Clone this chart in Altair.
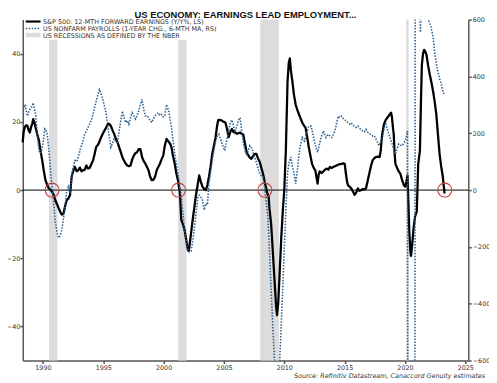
import altair as alt
import pandas as pd

# ---------------- data ----------------
eps_year = [1988.32, 1988.4, 1988.5, 1988.62, 1988.72, 1988.82, 1988.91, 1989.02, 1989.12, 1989.19,
            1989.28, 1989.4, 1989.52, 1989.67, 1989.8, 1989.94, 1990.08, 1990.21, 1990.35, 1990.49,
            1990.62, 1990.76, 1990.9, 1991.02, 1991.15, 1991.3, 1991.45, 1991.57, 1991.71, 1991.85,
            1991.98, 1992.1, 1992.24, 1992.31, 1992.38, 1992.5, 1992.65, 1992.8, 1992.93, 1993.06,
            1993.2, 1993.33, 1993.47, 1993.6, 1993.75, 1993.87, 1994.0, 1994.15, 1994.28, 1994.41,
            1994.6, 1994.82, 1995.0, 1995.23, 1995.41, 1995.52, 1995.63, 1995.77, 1995.9, 1996.05,
            1996.18, 1996.32, 1996.45, 1996.6, 1996.72, 1996.85, 1996.99, 1997.12, 1997.26, 1997.4,
            1997.53, 1997.66, 1997.8, 1997.94, 1998.07, 1998.14, 1998.21, 1998.35, 1998.48, 1998.62,
            1998.75, 1998.88, 1999.02, 1999.15, 1999.29, 1999.43, 1999.56, 1999.7, 1999.83, 1999.97,
            2000.1, 2000.24, 2000.35, 2000.46, 2000.55, 2000.65, 2000.78, 2000.92, 2001.05, 2001.19,
            2001.26, 2001.33, 2001.4, 2001.46, 2001.6, 2001.73, 2001.87, 2002.0, 2002.07, 2002.14,
            2002.28, 2002.41, 2002.55, 2002.68, 2002.82, 2002.95, 2003.08, 2003.22, 2003.36, 2003.5,
            2003.63, 2003.76, 2003.9, 2004.03, 2004.17, 2004.31, 2004.42, 2004.52, 2004.68, 2004.85,
            2004.98, 2005.12, 2005.25, 2005.39, 2005.52, 2005.66, 2005.8, 2005.93, 2006.1, 2006.34,
            2006.47, 2006.6, 2006.75, 2006.88, 2007.05, 2007.15, 2007.28, 2007.42, 2007.55, 2007.69,
            2007.8, 2007.97, 2008.1, 2008.24, 2008.37, 2008.5, 2008.6, 2008.7, 2008.77, 2008.91,
            2009.05, 2009.2, 2009.32, 2009.4, 2009.5, 2009.62, 2009.75, 2009.88, 2010.0, 2010.13,
            2010.27, 2010.38, 2010.46, 2010.55, 2010.67, 2010.8, 2010.94, 2011.08, 2011.22, 2011.35,
            2011.49, 2011.62, 2011.76, 2011.9, 2012.03, 2012.17, 2012.3, 2012.44, 2012.57, 2012.68,
            2012.76, 2012.85, 2012.93, 2013.08, 2013.25, 2013.38, 2013.52, 2013.65, 2013.79, 2013.93,
            2014.07, 2014.2, 2014.33, 2014.5, 2014.74, 2014.88, 2015.01, 2015.1, 2015.2, 2015.28,
            2015.42, 2015.55, 2015.7, 2015.82, 2015.95, 2016.1, 2016.23, 2016.37, 2016.5, 2016.65,
            2016.77, 2016.9, 2017.04, 2017.18, 2017.32, 2017.45, 2017.59, 2017.75, 2017.9, 2017.99,
            2018.1, 2018.26, 2018.4, 2018.54, 2018.7, 2018.85, 2018.92, 2019.0, 2019.07, 2019.14,
            2019.21, 2019.35, 2019.48, 2019.62, 2019.76, 2019.9, 2020.02, 2020.12, 2020.21, 2020.28,
            2020.36, 2020.45, 2020.5, 2020.6, 2020.72, 2020.84, 2020.98, 2021.1, 2021.24, 2021.32,
            2021.4, 2021.5, 2021.59, 2021.7, 2021.79, 2021.92, 2022.06, 2022.2, 2022.33, 2022.46,
            2022.6, 2022.73, 2022.87, 2023.0, 2023.14, 2023.28]
eps_val = [14.0, 17.0, 18.5, 19.0, 18.8, 17.5, 16.9, 18.5, 19.5, 20.8,
           20.0, 18.3, 16.5, 14.5, 11.5, 8.7, 5.5, 2.9, 1.5, 0.5,
           0.2, -0.5, -1.5, -2.9, -4.0, -5.3, -6.5, -7.2, -6.8, -4.5,
           -2.9, -2.5, -1.5, 1.0, 3.9, 5.5, 6.8, 5.5, 5.8, 6.6,
           5.5, 5.8, 6.0, 7.2, 6.3, 6.5, 7.5, 8.7, 10.5, 12.6,
           13.5, 15.5, 16.8, 18.3, 19.5, 19.3, 18.8, 17.5, 16.5, 15.0,
           14.0, 12.5, 11.1, 9.5, 8.7, 7.8, 7.2, 7.0, 7.2, 9.0,
           10.1, 10.8, 11.1, 12.0, 12.0, 11.0, 9.7, 8.5, 7.8, 6.8,
           5.8, 4.0, 2.9, 3.0, 3.9, 5.8, 6.8, 7.8, 9.0, 10.1,
           13.0, 15.0, 14.5, 14.0, 13.5, 12.6, 10.0, 7.8, 5.0, 2.9,
           1.0, 0.0, -4.0, -8.7, -10.0, -11.6, -14.5, -17.4, -17.8, -16.4,
           -12.5, -8.7, -5.0, -1.5, 1.5, 4.3, 2.5, 1.0, 0.3, 0.0,
           1.5, 3.9, 7.0, 10.6, 13.0, 15.5, 18.5, 20.5, 20.6, 20.3,
           20.0, 19.8, 18.0, 15.5, 17.0, 17.9, 17.0, 16.9, 16.5, 16.9,
           16.5, 16.3, 13.5, 11.1, 10.0, 9.5, 9.2, 10.0, 10.6, 10.6,
           9.5, 8.2, 6.5, 4.8, 2.5, 0.5, -1.0, -1.9, -5.3, -10.0,
           -18.0, -27.0, -34.0, -36.7, -33.0, -24.0, -14.0, -6.0, 0.0, 11.6,
           31.9, 37.5, 38.6, 35.0, 31.9, 28.0, 25.1, 23.5, 22.2, 21.0,
           19.8, 19.0, 18.3, 15.5, 12.6, 10.0, 7.7, 6.5, 5.8, 3.5,
           1.9, 4.5, 5.5, 5.0, 5.5, 6.0, 6.3, 6.0, 6.8, 6.5,
           6.8, 7.0, 7.2, 7.5, 7.7, 7.8, 7.7, 5.0, 2.5, 1.4,
           1.0, 0.5, -0.5, -1.4, -0.8, 0.5, -0.2, 0.0, 0.3, 0.2,
           0.5, 2.5, 4.8, 7.0, 8.7, 9.3, 9.7, 9.8, 9.7, 11.5,
           16.0, 19.3, 20.5, 21.2, 22.0, 22.7, 21.5, 18.5, 16.4, 11.0,
           7.7, 6.5, 5.5, 4.8, 3.0, 1.5, 1.0, 2.5, 4.3, -3.0,
           -12.0, -18.0, -19.3, -16.0, -11.0, -7.7, -6.3, 7.7, 11.6, 25.0,
           36.7, 40.0, 41.1, 40.5, 39.6, 36.5, 33.8, 31.5, 29.0, 26.0,
           22.2, 16.5, 10.6, 7.0, 3.9, -1.0]

nfp_year = [1988.32, 1988.42, 1988.54, 1988.63, 1988.72, 1988.85, 1988.99, 1989.1, 1989.19, 1989.3,
            1989.4, 1989.52, 1989.67, 1989.77, 1989.86, 1990.0, 1990.16, 1990.25, 1990.35, 1990.45,
            1990.54, 1990.62, 1990.7, 1990.8, 1990.89, 1990.98, 1991.08, 1991.2, 1991.3, 1991.42,
            1991.57, 1991.7, 1991.84, 1991.98, 1992.11, 1992.24, 1992.31, 1992.38, 1992.5, 1992.65,
            1992.8, 1992.93, 1993.1, 1993.33, 1993.45, 1993.6, 1993.73, 1993.87, 1994.0, 1994.15,
            1994.28, 1994.41, 1994.55, 1994.68, 1994.82, 1994.96, 1995.1, 1995.23, 1995.36, 1995.5,
            1995.63, 1995.77, 1995.9, 1996.05, 1996.18, 1996.32, 1996.45, 1996.58, 1996.72, 1996.85,
            1996.99, 1997.12, 1997.26, 1997.4, 1997.53, 1997.67, 1997.8, 1997.94, 1998.07, 1998.21,
            1998.35, 1998.48, 1998.62, 1998.75, 1998.88, 1999.02, 1999.15, 1999.29, 1999.43, 1999.56,
            1999.7, 1999.84, 1999.97, 2000.1, 2000.24, 2000.33, 2000.43, 2000.54, 2000.65, 2000.78,
            2000.92, 2001.05, 2001.19, 2001.33, 2001.46, 2001.6, 2001.73, 2001.87, 2002.0, 2002.14,
            2002.27, 2002.41, 2002.54, 2002.68, 2002.81, 2002.88, 2002.95, 2003.08, 2003.22, 2003.36,
            2003.5, 2003.63, 2003.7, 2003.76, 2003.9, 2004.03, 2004.17, 2004.31, 2004.45, 2004.58,
            2004.72, 2004.85, 2004.96, 2005.07, 2005.2, 2005.39, 2005.52, 2005.66, 2005.8, 2005.93,
            2006.1, 2006.2, 2006.34, 2006.47, 2006.61, 2006.75, 2006.88, 2007.02, 2007.15, 2007.25,
            2007.34, 2007.5, 2007.69, 2007.83, 2007.97, 2008.1, 2008.24, 2008.37, 2008.5, 2008.64,
            2008.78, 2008.92, 2009.05, 2009.19, 2009.4, 2009.62, 2009.8, 2009.95, 2010.13, 2010.27,
            2010.41, 2010.54, 2010.68, 2010.81, 2010.94, 2011.08, 2011.18, 2011.3, 2011.49, 2011.58,
            2011.67, 2011.85, 2012.03, 2012.22, 2012.36, 2012.49, 2012.62, 2012.76, 2012.88, 2012.98,
            2013.12, 2013.25, 2013.36, 2013.46, 2013.56, 2013.66, 2013.8, 2013.93, 2014.06, 2014.2,
            2014.33, 2014.47, 2014.6, 2014.74, 2014.88, 2015.01, 2015.15, 2015.28, 2015.42, 2015.55,
            2015.68, 2015.82, 2015.96, 2016.1, 2016.3, 2016.5, 2016.64, 2016.77, 2016.97, 2017.18,
            2017.32, 2017.45, 2017.65, 2017.85, 2018.0, 2018.13, 2018.27, 2018.4, 2018.54, 2018.67,
            2018.8, 2018.94, 2019.08, 2019.21, 2019.35, 2019.48, 2019.62, 2019.76, 2019.9, 2020.02,
            2020.12, 2020.21, 2020.29, 2020.8, 2020.86, 2021.15, 2021.28, 2021.4, 2021.6, 2021.85,
            2021.93, 2022.15, 2022.33, 2022.46, 2022.6, 2022.73, 2022.87, 2023.0, 2023.1, 2023.22]
nfp_val = [272, 290, 301, 275, 261, 280, 288, 295, 307, 285,
           266, 200, 139, 130, 133, 162, 215, 210, 197, 160,
           116, 75, 35, -5, -46, -90, -128, -155, -168, -160,
           -139, -100, -58, 0, 12, -12, 20, 46, 80, 104,
           100, 116, 145, 174, 195, 209, 220, 232, 245, 266,
           290, 313, 335, 354, 340, 319, 295, 272, 230, 186,
           151, 165, 180, 172, 168, 210, 244, 278, 255, 238,
           245, 232, 255, 272, 262, 250, 262, 278, 300, 319,
           285, 261, 262, 255, 245, 238, 250, 261, 268, 272,
           262, 266, 258, 261, 301, 290, 278, 250, 220, 175,
           127, 95, 58, 15, -23, -80, -139, -180, -209, -218,
           -215, -180, -139, -85, -35, -20, -18, -25, -35, -70,
           -47, -52, -10, 23, 65, 104, 140, 174, 190, 197,
           180, 162, 150, 139, 170, 210, 235, 247, 225, 205,
           230, 245, 255, 210, 165, 140, 122, 140, 156, 150,
           145, 120, 98, 75, 58, 50, 46, 12, -40, -92,
           -220, -360, -480, -600, -760, -600, -420, -260, -70, 60,
           100, 116, 81, 60, 23, 69, 110, 150, 185, 178,
           173, 200, 225, 225, 200, 173, 150, 133, 155, 173,
           195, 208, 195, 185, 192, 196, 190, 185, 195, 208,
           235, 260, 255, 260, 252, 249, 242, 237, 232, 237,
           228, 225, 220, 225, 215, 208, 205, 214, 200, 196,
           190, 191, 175, 156, 170, 185, 215, 237, 215, 196,
           180, 162, 140, 127, 145, 162, 158, 156, 165, 173,
           190, 208, -2500, -2500, 1500, 800, 555, 700, 800, 700,
           600, 575, 540, 485, 445, 416, 392, 376, 355, 338]

rec_start = [1990.5, 2001.2, 2008.0, 2020.1]
rec_end = [1991.2, 2001.9, 2009.55, 2020.3]

cross_year = [1990.76, 2001.24, 2008.39, 2023.3]
cross_val = [0, 0, 0, 0]

x_ticks = [1990, 1995, 2000, 2005, 2010, 2015, 2020, 2025]
left_ticks = [-40, -20, 0, 20, 40]
right_ticks = [-600, -400, -200, 0, 200, 400, 600]

legend_labels = ["S&P 500: 12-MTH FORWARD EARNINGS (Y/Y%, LS)",
                 "US NONFARM PAYROLLS (1-YEAR CHG., 6-MTH MA, RS)",
                 "US RECESSIONS AS DEFINED BY THE NBER"]
title_text = "US ECONOMY: EARNINGS LEAD EMPLOYMENT..."
source_text = "Source: Refinitiv Datastream, Canaccord Genuity estimates"

# ---------------- chart ----------------
W, H = 452, 346
FONT = "DejaVu Sans"
BLUE = "#2f5f8e"
GRAY = "#dcdcdc"
AXC = "#555555"

eps_df = pd.DataFrame({"year": eps_year, "eps": eps_val})
nfp_df = pd.DataFrame({"year": nfp_year, "nfp": nfp_val})
rec_df = pd.DataFrame({"start": rec_start, "end": rec_end})
cross_df = pd.DataFrame({"year": cross_year, "v": cross_val})
zero_df = pd.DataFrame({"v": [0]})
one = pd.DataFrame({"k": [0]})

xscale = alt.Scale(domain=[1988.33, 2025.25], nice=False, zero=False)
lscale = alt.Scale(domain=[-50, 50], nice=False, zero=False)
rscale = alt.Scale(domain=[-600, 600], nice=False, zero=False)

x_axis = alt.Axis(values=x_ticks, format="d", title=None, grid=False, tickSize=3,
                  labelPadding=1, labelFlush=False)
l_axis = alt.Axis(values=left_ticks, title=None, grid=False, tickSize=3, labelPadding=0,
                  orient="left", labelFlush=False)
r_axis = alt.Axis(values=right_ticks, title=None, grid=False, tickSize=3, labelPadding=1,
                  orient="right", labelFlush=False)

X = alt.X("year:Q", scale=xscale, axis=x_axis)

bars = alt.Chart(rec_df).mark_rect(color=GRAY).encode(
    x=alt.X("start:Q", scale=xscale, axis=x_axis), x2="end",
    y=alt.value(0), y2=alt.value(H))

white_box = alt.Chart(one).mark_rect(color="white").encode(
    x=alt.value(1.5), x2=alt.value(222), y=alt.value(0), y2=alt.value(20.5))

zero_line = alt.Chart(zero_df).mark_rule(color="black", strokeWidth=1).encode(
    y=alt.Y("v:Q", scale=lscale, axis=l_axis), x=alt.value(0), x2=alt.value(W))

eps_line = alt.Chart(eps_df).mark_line(color="black", strokeWidth=2.3, strokeJoin="round").encode(
    x=X, y=alt.Y("eps:Q", scale=lscale, axis=l_axis))

circles = alt.Chart(cross_df).mark_point(shape="circle", size=200, filled=False,
                                          color="#cc3b3b", strokeWidth=1.1, opacity=1).encode(
    x=alt.X("year:Q", scale=xscale, axis=x_axis), y=alt.Y("v:Q", scale=lscale, axis=l_axis))

leg_line1 = alt.Chart(one).mark_rule(color="black", strokeWidth=2.2).encode(
    x=alt.value(3), x2=alt.value(18), y=alt.value(2))
leg_line2 = alt.Chart(one).mark_rule(color=BLUE, strokeWidth=1.6, strokeDash=[1.5, 1.5]).encode(
    x=alt.value(3), x2=alt.value(18), y=alt.value(9))
leg_rect3 = alt.Chart(one).mark_rect(color=GRAY).encode(
    x=alt.value(3), x2=alt.value(18), y=alt.value(13.5), y2=alt.value(18))

def leg_text(label, y):
    return alt.Chart(one).mark_text(text=label, font=FONT, fontSize=6.5, color="#333333",
                                    align="left", baseline="middle").encode(
        x=alt.value(20.5), y=alt.value(y))

title_mark = alt.Chart(one).mark_text(text=title_text, font="Liberation Sans", fontSize=9.5,
                                      fontWeight="bold", color="#111111", align="center",
                                      baseline="alphabetic").encode(
    x=alt.value(W / 2), y=alt.value(-2))

source_mark = alt.Chart(one).mark_text(text=source_text, font=FONT, fontSize=6.5, fontStyle="italic",
                                       color="#333333", align="right", baseline="alphabetic").encode(
    x=alt.value(W + 17), y=alt.value(H + 18))

left = alt.layer(bars, white_box, zero_line, eps_line, circles,
                 leg_line1, leg_line2, leg_rect3,
                 leg_text(legend_labels[0], 2.5), leg_text(legend_labels[1], 9.5),
                 leg_text(legend_labels[2], 16.5),
                 title_mark, source_mark)

right = alt.Chart(nfp_df).mark_line(color=BLUE, strokeWidth=1.6, strokeDash=[1.5, 1.5],
                                    clip=True).encode(
    x=X, y=alt.Y("nfp:Q", scale=rscale, axis=r_axis))

chart = alt.layer(left, right).resolve_scale(y="independent").properties(
    width=W, height=H,
    autosize=alt.AutoSizeParams(type="none"),
    padding={"left": 15, "top": 9, "right": 21, "bottom": 20},
).configure_view(stroke=None).configure_axis(
    domainColor=AXC, domainWidth=1.5, tickColor=AXC, tickWidth=1.5,
    labelColor="#333333", labelFont=FONT, labelFontSize=6.5, grid=False)

chart.save("out.html", embed_options={"renderer": "svg", "actions": False})
